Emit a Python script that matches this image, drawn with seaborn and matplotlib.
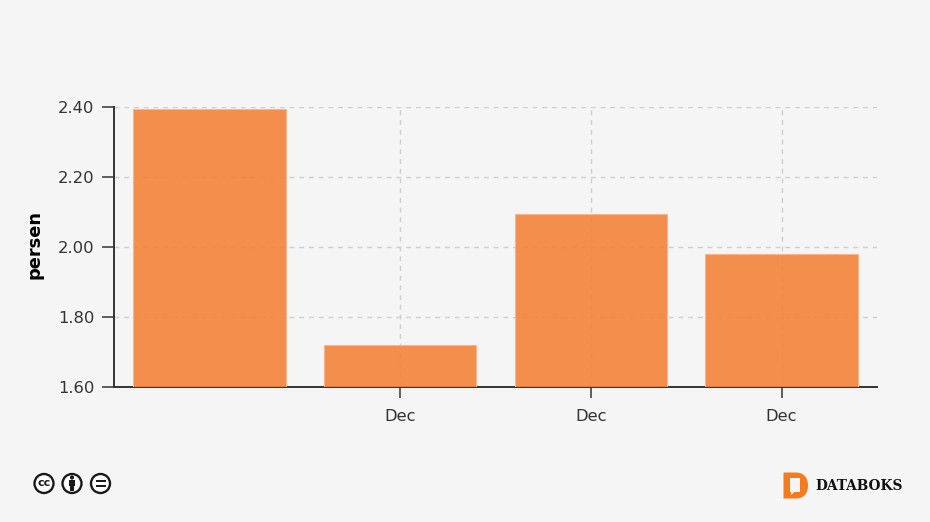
import matplotlib
matplotlib.use("Agg")
import matplotlib.pyplot as plt
import seaborn as sns
import pandas as pd
from matplotlib.patches import Circle, Rectangle, PathPatch, Polygon
from matplotlib.path import Path

periods = ["p0", "p1", "p2", "p3"]
values = [2.393, 1.72, 2.094, 1.98]
tick_labels = ["Dec", "Dec", "Dec"]
y_ticks = [1.6, 1.8, 2.0, 2.2, 2.4]

BG = "#F5F5F5"
DARK = "#333333"
sns.set_theme(style="white", rc={"figure.facecolor": BG, "axes.facecolor": BG})
plt.rcParams["font.family"] = ["DejaVu Sans"]

W, H = 930, 522
fig = plt.figure(figsize=(W / 100, H / 100), dpi=100)
ax = fig.add_axes([114 / W, 1 - 387 / H, (877 - 114) / W, (387 - 107) / H])

df = pd.DataFrame({"period": periods, "value": values})
sns.barplot(data=df, x="period", y="value", order=periods, color="#F3833A", saturation=1,
            width=0.8, alpha=0.9, ax=ax, zorder=3, edgecolor="#F9B48C", linewidth=0.8)

ax.set_xlim(-0.5, 3.5)
ax.set_ylim(1.6, 2.4)
ax.set_xticks([1, 2, 3], tick_labels)
ax.set_yticks(y_ticks, [f"{v:.2f}" for v in y_ticks])
ax.set_xlabel("")
ax.set_ylabel("persen", fontsize=12.8, fontweight="bold", color="black")
ax.yaxis.set_label_coords(-0.0925, 0.51)
ax.grid(True, axis="both", color="#CFCFCF", linestyle=(0, (3.5, 3.5)), linewidth=1)
ax.set_axisbelow(True)
for s in ("top", "right"):
    ax.spines[s].set_visible(False)
for s in ("left", "bottom"):
    ax.spines[s].set_color("#333333")
    ax.spines[s].set_linewidth(1.4)
ax.tick_params(axis="both", length=8, width=1.1, color=DARK, labelcolor=DARK, labelsize=11.8, bottom=True, left=True)
ax.tick_params(axis="x", pad=8)
ax.tick_params(axis="y", pad=5, length=9)

# footer overlay in pixel coordinates
ov = fig.add_axes([0, 0, 1, 1], zorder=10)
ov.set_xlim(0, W)
ov.set_ylim(H, 0)
ov.axis("off")

# licence badges
ICON = "#1A1A1A"
for cx in (44, 72, 100.5):
    ov.add_patch(Circle((cx, 483.5), 9.5, facecolor="white", edgecolor=ICON, linewidth=1.7))
ov.text(44, 483.2, "cc", ha="center", va="center", fontsize=8, fontweight="bold", color=ICON)
ov.add_patch(Circle((72, 477.5), 2.1, color=ICON, lw=0))
ov.add_patch(Rectangle((68.8, 480), 6.4, 5.5, color=ICON, lw=0))
ov.add_patch(Rectangle((70, 485), 4, 5.5, color=ICON, lw=0))
ov.add_patch(Rectangle((95.5, 480.4), 10, 2, color=ICON, lw=0))
ov.add_patch(Rectangle((95.5, 484.6), 10, 2, color=ICON, lw=0))

# publisher mark
ORANGE = "#F47B20"
d_shape = Path(
    [(783.5, 472.5), (796, 472.5), (804, 472.5), (808, 478), (808, 485.5), (808, 493), (804, 498.5), (796, 498.5),
     (783.5, 498.5), (783.5, 472.5)],
    [Path.MOVETO, Path.LINETO, Path.CURVE4, Path.CURVE4, Path.CURVE4, Path.CURVE4, Path.CURVE4, Path.CURVE4,
     Path.LINETO, Path.CLOSEPOLY],
)
ov.add_patch(PathPatch(d_shape, facecolor=ORANGE, edgecolor="none"))
ov.add_patch(Rectangle((789.5, 478), 10, 13.5, facecolor=BG, edgecolor="none"))
ov.add_patch(Polygon([(791, 491), (795.5, 491), (791, 495)], facecolor=BG, edgecolor="none"))
ov.text(815, 485.5, "DATABOKS", ha="left", va="center", fontsize=9.9, fontweight="bold",
        family="DejaVu Serif", color="#111111")

fig.savefig("out.png", dpi=100, facecolor=BG)
